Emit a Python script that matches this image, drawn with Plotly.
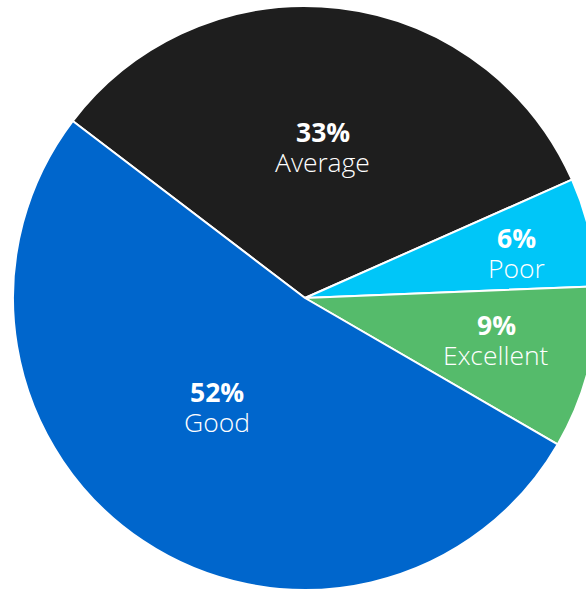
import math
import plotly.graph_objects as go

labels = ["Average", "Poor", "Excellent", "Good"]
values = [33, 6, 9, 52]
colors = ["#1e1e1e", "#00c6f8", "#55bb6b", "#0066cc"]

# label placement inside each slice (fraction of radius, angle tweak in degrees)
label_r = [0.52, 0.74, 0.67, 0.48]
label_da = [0.0, -1.0, 1.5, -5.0]

W, H = 610, 590
M_T = 6
ROT = -52.7  # plotly rotation (clockwise from 12 o'clock)

fig = go.Figure(go.Pie(
    labels=labels,
    values=values,
    sort=False,
    direction="clockwise",
    rotation=ROT,
    marker=dict(colors=colors, line=dict(color="white", width=2)),
    textinfo="none",
    hoverinfo="skip",
    showlegend=False,
))

# label annotations positioned from the data (slice mid-angles)
plot_h = H - M_T
R = min(W, plot_h) / 2
total = sum(values)
start = 90 - ROT  # math angle of first slice start
cum = 0
for lab, v, rf, da in zip(labels, values, label_r, label_da):
    mid = start - 360 * (cum + v / 2) / total + da
    cum += v
    x = 0.5 + rf * R * math.cos(math.radians(mid)) / W
    y = 0.5 + rf * R * math.sin(math.radians(mid)) / plot_h
    pct = f"{round(100 * v / total)}%"
    fig.add_annotation(x=x, y=y, xref="paper", yref="paper", text=f"<b>{pct}</b>",
                       showarrow=False, yshift=15, xanchor="center", yanchor="middle",
                       font=dict(family="Open Sans", size=26.5, color="white"))
    fig.add_annotation(x=x, y=y, xref="paper", yref="paper", text=lab,
                       showarrow=False, yshift=-15, xanchor="center", yanchor="middle",
                       font=dict(family="Open Sans Light, Open Sans", size=26.5,
                                 color="white", weight=300))

fig.update_layout(
    width=W,
    height=H,
    margin=dict(l=0, r=0, t=M_T, b=0),
    paper_bgcolor="white",
    plot_bgcolor="white",
)

fig.write_html(
    "out.html",
    config={"displayModeBar": False, "staticPlot": True},
    post_script="document.body.style.margin='0';document.body.style.overflow='hidden';",
)
